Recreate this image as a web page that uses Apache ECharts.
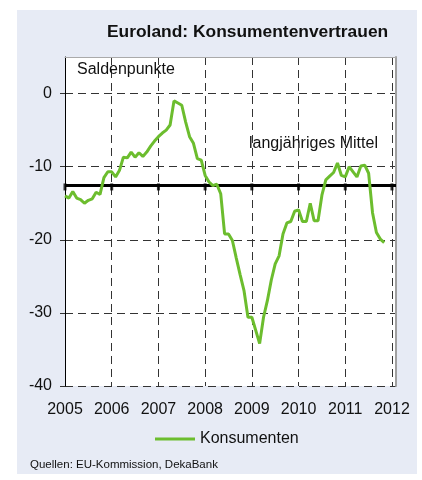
<!DOCTYPE html>
<html><head><meta charset="utf-8">
<script src="https://cdn.jsdelivr.net/npm/echarts@6/dist/echarts.min.js"></script>
<style>
html,body{margin:0;padding:0;background:#fff}
#wrap{position:relative;width:422px;height:480px}
#panel{position:absolute;left:17px;top:10px;width:400px;height:464px;background:#e7ebf5}
#c{position:absolute;left:0;top:0;width:422px;height:480px}
</style>
</head><body><div id="wrap"><div id="panel"></div><div id="c"></div></div>
<script>
// Monthly values, Saldenpunkte (Jan ... Dec)
const kons2005 = [-14.0, -14.3, -13.4, -14.3, -14.5, -15.0, -14.6, -14.4, -13.5, -13.8, -11.5, -10.7];
const kons2006 = [-10.7, -11.4, -10.5, -8.7, -8.8, -8.0, -8.7, -8.1, -8.6, -8.0, -7.2, -6.5];
const kons2007 = [-5.9, -5.4, -5.0, -4.3, -1.0, -1.3, -1.6, -3.9, -5.9, -6.8, -8.9, -9.1];
const kons2008 = [-11.2, -12.1, -12.6, -12.4, -13.7, -19.2, -19.2, -20.1, -22.5, -24.8, -27.0, -30.6];
const kons2009 = [-30.6, -32.4, -34.2, -30.6, -28.3, -25.5, -23.3, -22.2, -19.2, -17.7, -17.5, -16.1];
const kons2010 = [-15.9, -17.5, -17.5, -15.0, -17.4, -17.4, -13.9, -11.8, -11.3, -10.8, -9.5, -11.2];
const kons2011 = [-11.4, -10.0, -10.7, -11.4, -9.9, -9.8, -10.9, -16.3, -19.0, -19.9, -20.4];
const years = [2005, 2006, 2007, 2008, 2009, 2010, 2011];
const yearTicks = [2005, 2006, 2007, 2008, 2009, 2010, 2011, 2012];
const longTermMean = -12.5;
const yTicks = [-40, -30, -20, -10, 0];

const byYear = [kons2005, kons2006, kons2007, kons2008, kons2009, kons2010, kons2011];
const points = [];
byYear.forEach((arr, yi) => arr.forEach((v, m) => points.push([years[yi] + m / 12, v])));

const FONT = 'Liberation Sans, Arial, sans-serif';
const chart = echarts.init(document.getElementById('c'));
chart.setOption({
  animation: false,
  backgroundColor: 'transparent',
  title: [
    { text: 'Euroland: Konsumentenvertrauen', left: 107, top: 24, padding: 0,
      textStyle: { fontFamily: FONT, fontSize: 17.4, fontWeight: 'bold', color: '#111' } },
    { text: 'Saldenpunkte', left: 77, top: 62, padding: 0,
      textStyle: { fontFamily: FONT, fontSize: 16, fontWeight: 'normal', color: '#111' } },
    { text: 'langjähriges Mittel', left: 249, top: 136, padding: 0,
      textStyle: { fontFamily: FONT, fontSize: 16, fontWeight: 'normal', color: '#111' } },
    { text: 'Quellen: EU-Kommission, DekaBank', left: 30, top: 459, padding: 0,
      textStyle: { fontFamily: FONT, fontSize: 11.5, fontWeight: 'normal', color: '#111' } }
  ],
  legend: {
    data: ['Konsumenten'], left: 155, top: 431, padding: 0,
    icon: 'rect', itemWidth: 40, itemHeight: 3, itemGap: 5,
    textStyle: { fontFamily: FONT, fontSize: 16, color: '#111', padding: [0, 0, 0, 0] }
  },
  grid: { left: 65, right: 26, top: 57, bottom: 94, show: true, backgroundColor: '#fff', borderWidth: 0 },
  xAxis: [{
    type: 'value', min: 2005, max: 2012.086, interval: 1,
    axisLine: { show: false }, axisTick: { show: false },
    axisLabel: { fontFamily: FONT, fontSize: 16, color: '#111', margin: 16,
      formatter: v => Number.isInteger(v) ? String(v) : '' },
    splitLine: { show: true, lineStyle: { color: '#333', type: [8, 5], width: 1 } }
  }, {
    type: 'value', position: 'top', min: 2005, max: 2012.086,
    axisLine: { show: true, onZero: false, lineStyle: { color: '#aaa', width: 1 } },
    axisTick: { show: false }, axisLabel: { show: false }, splitLine: { show: false }
  }],
  yAxis: [{
    type: 'value', min: -40, max: 5, interval: 10,
    axisLine: { show: true, onZero: false, lineStyle: { color: '#000', width: 1 } },
    axisTick: { show: true, length: 5, lineStyle: { color: '#333' },
      customValues: yTicks },
    axisLabel: { fontFamily: FONT, fontSize: 16, color: '#111', margin: 13,
      customValues: yTicks, formatter: v => String(v) },
    splitLine: { show: true, lineStyle: { color: '#333', type: [8, 5], width: 1 } }
  }, {
    type: 'value', position: 'right', min: -40, max: 5,
    axisLine: { show: true, onZero: false, lineStyle: { color: '#a0a0a0', width: 2 } },
    axisTick: { show: false }, axisLabel: { show: false }, splitLine: { show: false }
  }],
  series: [{
    name: 'Konsumenten', type: 'line', data: points, showSymbol: false, symbol: 'none',
    xAxisIndex: 0, yAxisIndex: 0, z: 5,
    color: '#6cbd2e',
    lineStyle: { color: '#6cbd2e', width: 3 },
    markLine: {
      silent: true, symbol: 'none', label: { show: false },
      lineStyle: { color: '#000', width: 3, type: 'solid' },
      data: [{ yAxis: longTermMean }]
    }
  }, {
    name: 'ticks', type: 'scatter', symbol: 'rect', symbolSize: [3, 7], symbolOffset: [0, 2],
    data: yearTicks.map(y => [y, longTermMean]), itemStyle: { color: '#000' }, z: 6, silent: true
  }]
});
</script>
</body></html>
